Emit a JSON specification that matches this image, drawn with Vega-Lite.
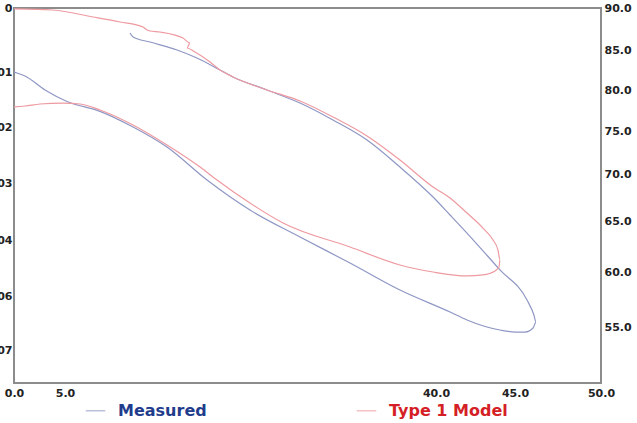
{
  "$schema": "https://vega.github.io/schema/vega-lite/v6.json",
  "width": 587,
  "height": 375,
  "autosize": "none",
  "padding": {"left": 14, "top": 8, "right": 36, "bottom": 40},
  "background": "white",
  "config": {
    "view": {"stroke": "#8c8c8c", "strokeWidth": 2},
    "font": "DejaVu Sans",
    "axis": {"labelFont": "DejaVu Sans", "labelFontWeight": "bold", "labelFontSize": 11, "labelColor": "#222222", "grid": false, "domain": false, "ticks": false, "title": null, "labelOverlap": false, "labelFlush": false}
  },
  "datasets": {
    "curves": [
      {"series": "Measured", "i": 1, "x": 11.13, "y": 87.02},
      {"series": "Measured", "i": 2, "x": 11.42, "y": 86.55},
      {"series": "Measured", "i": 3, "x": 13.02, "y": 85.95},
      {"series": "Measured", "i": 4, "x": 15.57, "y": 85.0},
      {"series": "Measured", "i": 5, "x": 17.45, "y": 84.0},
      {"series": "Measured", "i": 6, "x": 19.62, "y": 82.5},
      {"series": "Measured", "i": 7, "x": 20.85, "y": 81.63},
      {"series": "Measured", "i": 8, "x": 24.06, "y": 80.0},
      {"series": "Measured", "i": 9, "x": 27.17, "y": 78.41},
      {"series": "Measured", "i": 10, "x": 30.28, "y": 76.34},
      {"series": "Measured", "i": 11, "x": 33.49, "y": 73.95},
      {"series": "Measured", "i": 12, "x": 36.6, "y": 70.81},
      {"series": "Measured", "i": 13, "x": 39.72, "y": 67.55},
      {"series": "Measured", "i": 14, "x": 40.89, "y": 65.64},
      {"series": "Measured", "i": 15, "x": 41.96, "y": 63.82},
      {"series": "Measured", "i": 16, "x": 44.05, "y": 60.2},
      {"series": "Measured", "i": 17, "x": 45.7, "y": 57.45},
      {"series": "Measured", "i": 18, "x": 46.1, "y": 56.09},
      {"series": "Measured", "i": 19, "x": 46.22, "y": 55.45},
      {"series": "Measured", "i": 20, "x": 46.05, "y": 54.91},
      {"series": "Measured", "i": 21, "x": 45.58, "y": 54.55},
      {"series": "Measured", "i": 22, "x": 45.0, "y": 54.55},
      {"series": "Measured", "i": 23, "x": 44.05, "y": 54.73},
      {"series": "Measured", "i": 24, "x": 41.96, "y": 55.64},
      {"series": "Measured", "i": 25, "x": 40.89, "y": 56.36},
      {"series": "Measured", "i": 26, "x": 36.6, "y": 58.36},
      {"series": "Measured", "i": 27, "x": 31.89, "y": 60.88},
      {"series": "Measured", "i": 28, "x": 27.17, "y": 63.43},
      {"series": "Measured", "i": 29, "x": 22.45, "y": 66.17},
      {"series": "Measured", "i": 30, "x": 18.4, "y": 69.36},
      {"series": "Measured", "i": 31, "x": 14.62, "y": 73.14},
      {"series": "Measured", "i": 32, "x": 11.42, "y": 75.49},
      {"series": "Measured", "i": 33, "x": 8.3, "y": 77.4},
      {"series": "Measured", "i": 34, "x": 5.19, "y": 78.6},
      {"series": "Measured", "i": 35, "x": 3.04, "y": 80.0},
      {"series": "Measured", "i": 36, "x": 1.08, "y": 81.75},
      {"series": "Measured", "i": 37, "x": 0.29, "y": 82.13},
      {"series": "Measured", "i": 38, "x": 0.0, "y": 82.25},
      {"series": "Type 1 Model", "i": 1, "x": 0.0, "y": 89.9},
      {"series": "Type 1 Model", "i": 2, "x": 3.82, "y": 89.76},
      {"series": "Type 1 Model", "i": 3, "x": 7.64, "y": 88.93},
      {"series": "Type 1 Model", "i": 4, "x": 10.19, "y": 88.33},
      {"series": "Type 1 Model", "i": 5, "x": 12.36, "y": 87.74},
      {"series": "Type 1 Model", "i": 6, "x": 12.74, "y": 87.38},
      {"series": "Type 1 Model", "i": 7, "x": 13.02, "y": 87.26},
      {"series": "Type 1 Model", "i": 8, "x": 13.96, "y": 87.14},
      {"series": "Type 1 Model", "i": 9, "x": 16.13, "y": 86.43},
      {"series": "Type 1 Model", "i": 10, "x": 16.79, "y": 85.83},
      {"series": "Type 1 Model", "i": 11, "x": 16.51, "y": 85.24},
      {"series": "Type 1 Model", "i": 12, "x": 17.26, "y": 84.75},
      {"series": "Type 1 Model", "i": 13, "x": 18.68, "y": 83.5},
      {"series": "Type 1 Model", "i": 14, "x": 19.62, "y": 82.5},
      {"series": "Type 1 Model", "i": 15, "x": 20.85, "y": 81.63},
      {"series": "Type 1 Model", "i": 16, "x": 24.06, "y": 80.0},
      {"series": "Type 1 Model", "i": 17, "x": 27.17, "y": 78.66},
      {"series": "Type 1 Model", "i": 18, "x": 30.28, "y": 76.71},
      {"series": "Type 1 Model", "i": 19, "x": 33.49, "y": 74.42},
      {"series": "Type 1 Model", "i": 20, "x": 36.6, "y": 71.63},
      {"series": "Type 1 Model", "i": 21, "x": 39.72, "y": 68.62},
      {"series": "Type 1 Model", "i": 22, "x": 40.89, "y": 67.45},
      {"series": "Type 1 Model", "i": 23, "x": 41.96, "y": 65.85},
      {"series": "Type 1 Model", "i": 24, "x": 42.97, "y": 64.31},
      {"series": "Type 1 Model", "i": 25, "x": 43.61, "y": 63.14},
      {"series": "Type 1 Model", "i": 26, "x": 43.92, "y": 62.16},
      {"series": "Type 1 Model", "i": 27, "x": 44.05, "y": 61.18},
      {"series": "Type 1 Model", "i": 28, "x": 43.99, "y": 60.49},
      {"series": "Type 1 Model", "i": 29, "x": 43.73, "y": 60.1},
      {"series": "Type 1 Model", "i": 30, "x": 42.97, "y": 59.73},
      {"series": "Type 1 Model", "i": 31, "x": 41.96, "y": 59.64},
      {"series": "Type 1 Model", "i": 32, "x": 39.72, "y": 60.0},
      {"series": "Type 1 Model", "i": 33, "x": 36.6, "y": 60.69},
      {"series": "Type 1 Model", "i": 34, "x": 31.89, "y": 62.45},
      {"series": "Type 1 Model", "i": 35, "x": 25.57, "y": 64.8},
      {"series": "Type 1 Model", "i": 36, "x": 22.45, "y": 66.91},
      {"series": "Type 1 Model", "i": 37, "x": 19.34, "y": 69.36},
      {"series": "Type 1 Model", "i": 38, "x": 17.74, "y": 70.81},
      {"series": "Type 1 Model", "i": 39, "x": 14.62, "y": 73.37},
      {"series": "Type 1 Model", "i": 40, "x": 11.42, "y": 75.73},
      {"series": "Type 1 Model", "i": 41, "x": 8.3, "y": 77.56},
      {"series": "Type 1 Model", "i": 42, "x": 6.42, "y": 78.29},
      {"series": "Type 1 Model", "i": 43, "x": 4.8, "y": 78.41},
      {"series": "Type 1 Model", "i": 44, "x": 2.55, "y": 78.29},
      {"series": "Type 1 Model", "i": 45, "x": 1.08, "y": 78.05},
      {"series": "Type 1 Model", "i": 46, "x": 0.0, "y": 77.93}
    ],
    "leftAxis": [
      {"depth": 0}, {"depth": 0.01}, {"depth": 0.02}, {"depth": 0.03}, {"depth": 0.04}, {"depth": 0.06}, {"depth": 0.07}
    ]
  },
  "layer": [
    {
      "data": {"name": "curves"},
      "mark": {"type": "line", "strokeWidth": 1.2, "interpolate": "monotone", "clip": true},
      "encoding": {
        "x": {"field": "x", "type": "quantitative",
              "scale": {"domain": [0, 5, 40, 45, 50], "range": [0, 51, 422, 501, 587], "nice": false, "zero": false},
              "axis": {"values": [0, 5, 40, 45, 50], "format": ".1f", "labelPadding": 4}},
        "y": {"field": "y", "type": "quantitative",
              "scale": {"domain": [50, 55, 60, 65, 70, 75, 80, 85, 90], "range": [375, 319, 264, 213, 166, 123, 82, 42, 0], "nice": false, "zero": false},
              "axis": {"orient": "right", "values": [55, 60, 65, 70, 75, 80, 85, 90], "format": ".1f", "labelPadding": 3}},
        "order": {"field": "i", "type": "quantitative"},
        "color": {"field": "series", "type": "nominal",
                  "scale": {"domain": ["Measured", "Type 1 Model"], "range": ["#8f97c4", "#ee9aa0"]},
                  "legend": {"orient": "none", "direction": "horizontal", "legendX": 71, "legendY": 392,
                             "title": null, "symbolType": "stroke", "symbolSize": 380, "symbolStrokeWidth": 1.5, "symbolOpacity": 0.6,
                             "labelFont": "DejaVu Sans", "labelFontWeight": "bold", "labelFontSize": 16, "labelOffset": 12,
                             "columnPadding": 146,
                             "labelColor": {"expr": "datum.label == 'Measured' ? '#1f3d8c' : '#d41f26'"}}}
      }
    },
    {
      "data": {"name": "leftAxis"},
      "mark": {"type": "point", "opacity": 0},
      "encoding": {
        "y": {"field": "depth", "type": "quantitative",
              "scale": {"domain": [0, 0.01, 0.02, 0.03, 0.04, 0.06, 0.07], "range": [0, 64, 119, 175, 232, 288, 342], "nice": false, "zero": false},
              "axis": {"orient": "left", "values": [0, 0.01, 0.02, 0.03, 0.04, 0.06, 0.07], "labelPadding": 2,
                       "labelExpr": "datum.value == 0 ? '0' : format(datum.value, '.2f')"}}
      }
    }
  ],
  "resolve": {"scale": {"y": "independent"}, "axis": {"y": "independent"}}
}
